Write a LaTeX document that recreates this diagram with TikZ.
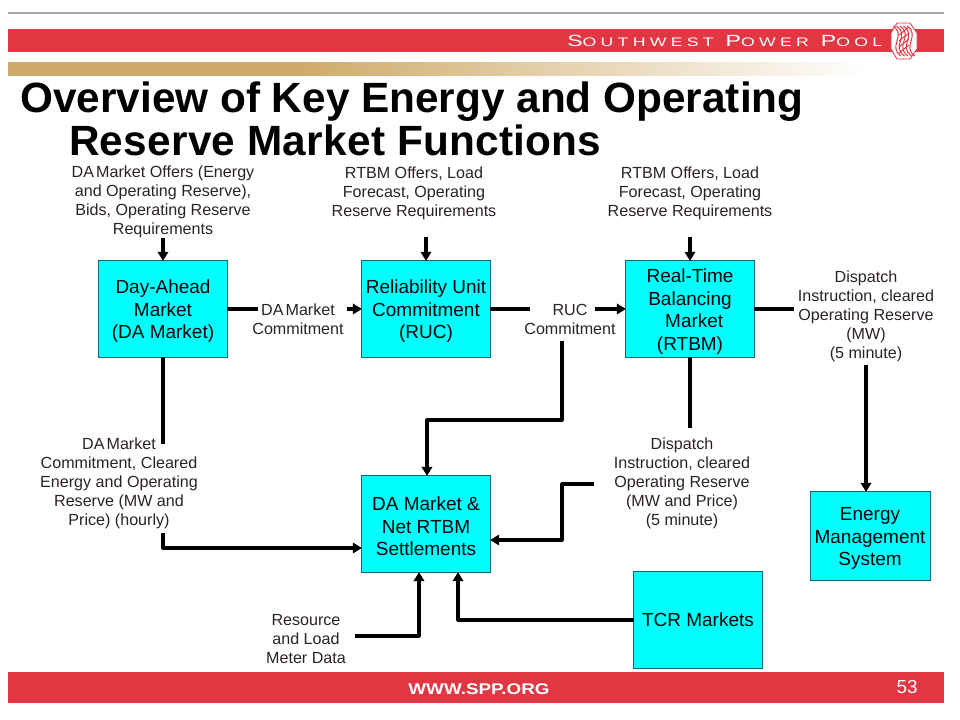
\documentclass[tikz,border=0pt]{standalone}
\usepackage{graphicx}
\usepackage{fontspec}
\setmainfont{Liberation Sans}
\newfontfamily\bandfont[LetterSpace=24]{Liberation Sans}
\usetikzlibrary{arrows.meta,positioning}
\definecolor{sppred}{HTML}{E23642}
\definecolor{spptan}{HTML}{CFAB69}
\definecolor{boxfill}{RGB}{0,255,255}
\definecolor{boxedge}{HTML}{0A6878}
\definecolor{notetext}{HTML}{2A2226}
\pgfdeclarehorizontalshading{tanfade}{100bp}{color(0bp)=(spptan); color(42bp)=(spptan); color(75bp)=(white); color(100bp)=(white)}
\newcommand{\boxtop}{\rule{0pt}{13.3pt}}
\tikzset{
  marketbox/.style={rectangle,draw=boxedge,line width=0.7pt,fill=boxfill,minimum width=3.2cm,minimum height=2.4cm,inner sep=0pt,outer sep=0pt,align=center,font=\fontsize{13.5}{16}\selectfont},
  note/.style={inner sep=0pt,align=center,text=notetext,font=\fontsize{11.45}{13.5}\selectfont},
  link/.style={line width=2.2pt,line join=round},
  feed/.style={link,-{Triangle[length=2.3mm,width=2.6mm]}},
}
\begin{document}
\begin{tikzpicture}[x=0.025cm,y=-0.025cm]
\useasboundingbox (0,0) rectangle (960,720);

% slide frame
\draw[gray!70,line width=1pt] (8,13) -- (944,13);
\fill[sppred] (8,29) rectangle (944,52);
\shade[shading=tanfade] (8,63) rectangle (870,76);
\fill[sppred] (8,672) rectangle (944,703);
\fill[white,draw=sppred,line width=0.6pt] (897,23) -- (910,23) -- (917,33) -- (917,49) -- (910,59) -- (897,59) -- (891,49) -- (891,33) -- cycle;
\foreach \s in {-7,-3.5,0,3.5,7}{
  \draw[sppred,line width=0.7pt] (900+\s,26) .. controls (914+\s,36) and (894+\s,46) .. (908+\s,56);
}
\draw[sppred,line width=0.7pt] (899,41) -- (909,33) (899,47) -- (909,39) (899,35) -- (909,27) (899,53) -- (909,45);
\node[anchor=west,inner sep=0pt,text=white] (brand) at (567,41) {\scalebox{1.43}[1]{\bandfont\fontsize{11.5}{12}\selectfont S{\fontsize{8.8}{12}\selectfont OUTHWEST} P{\fontsize{8.8}{12}\selectfont OWER} P{\fontsize{8.8}{12}\selectfont OOL}}};
\node[inner sep=0pt,text=white] (site) at (479,689) {\scalebox{1.22}[1]{\fontsize{11}{12}\selectfont\bfseries WWW.SPP.ORG}};
\node[inner sep=0pt,text=white] (page) at (907,687) {\fontsize{13.4}{14}\selectfont 53};
\node[anchor=north west,inner sep=0pt,align=left,font=\fontsize{30.1}{30}\selectfont\bfseries] (title) at (20,82) {Overview of Key Energy and Operating\\\hspace*{34.8pt}\addfontfeatures{LetterSpace=0.6}Reserve Market Functions};

\coordinate (A) at (163,309);
\coordinate (B) at (426,309);
\coordinate (C) at (690,309);
\coordinate (D) at (426,524);
\coordinate (E) at (698,620);
\coordinate (F) at (870,536);
\coordinate (G) at (562,420);
\coordinate (H) at (562,484);
\coordinate (I) at (163,548);
\coordinate (J) at (419,636);
\coordinate (K) at (458,620);
\coordinate (L) at (427,420);
\coordinate (M) at (562,540);

\node[marketbox] (A1) at (A) {\boxtop Day-Ahead\\Market\\(DA Market)};
\node[marketbox] (B1) at (B) {\boxtop Reliability Unit\\Commitment\\(RUC)};
\node[marketbox] (C1) at (C) {\boxtop Real-Time\\Balancing\hspace{8pt}\\\hspace{6pt}Market\\(RTBM)};
\node[marketbox] (D1) at (D) {\boxtop DA Market \&\hspace{4pt}\\Net RTBM\hspace{9pt}\\Settlements};
\node[marketbox] (E1) at (E) {TCR Markets};
\node[marketbox,minimum width=3cm,minimum height=2.2cm] (F1) at (F) {\boxtop Energy\\Management\\System};

\node[note] (A2) at (163,202) {DA\hspace{1.5pt}Market Offers (Energy\\and Operating Reserve),\\Bids, Operating Reserve\\Requirements};
\node[note] (B2) at (414,193) {RTBM Offers, Load\\Forecast, Operating\\Reserve Requirements};
\node[note] (C2) at (690,193) {RTBM Offers, Load\\Forecast, Operating\\Reserve Requirements};
\node[note] (A3) at (298,319) {DA\hspace{1.5pt}Market\\Commitment};
\node[note] (B3) at (570,319) {RUC\\Commitment};
\node[note] (C3) at (866,316) {Dispatch\\Instruction, cleared\\Operating Reserve\\(MW)\\(5 minute)};
\node[note] (A4) at (119,483) {DA\hspace{1.5pt}Market\\Commitment, Cleared\\Energy and Operating\\Reserve (MW and\\Price) (hourly)};
\node[note] (C4) at (682,483) {Dispatch\\Instruction, cleared\\Operating Reserve\\(MW and Price)\\(5 minute)};
\node[note] (D2) at (306,639) {Resource\\and Load\\Meter Data};

\coordinate (A5) at (163,238);
\coordinate (B5) at (426,237);
\coordinate (C5) at (690,237);
\coordinate (A6) at (258,309);
\coordinate (A7) at (347,309);
\coordinate (B6) at (530,309);
\coordinate (B7) at (595,309);
\coordinate (B8) at (562,341);
\coordinate (C6) at (794,309);
\coordinate (C7) at (866,365);
\coordinate (C8) at (690,428);
\coordinate (C9) at (594,484);
\coordinate (A8) at (163,444);
\coordinate (A9) at (163,533);
\coordinate (D3) at (355,636);

\draw[feed] (A5) -- (A1);
\draw[feed] (B5) -- (B1);
\draw[feed] (C5) -- (C1);
\draw[link] (A1) -- (A6);
\draw[feed] (A7) -- (B1);
\draw[link] (B1) -- (B6);
\draw[feed] (B7) -- (C1);
\draw[feed] (B8) -- (G) -- (L) -- (L |- D1.north);
\draw[link] (C1) -- (C6);
\draw[feed] (C7) -- (C7 |- F1.north);
\draw[link] (C1) -- (C8);
\draw[feed] (C9) -- (H) -- (M) -- (D1.east |- M);
\draw[link] (A1) -- (A8);
\draw[feed] (A9) |- (D1.west |- I);
\draw[feed] (D3) -| (D1.south -| J);
\draw[feed] (E1) -| (D1.south -| K);

\end{tikzpicture}
\end{document}
